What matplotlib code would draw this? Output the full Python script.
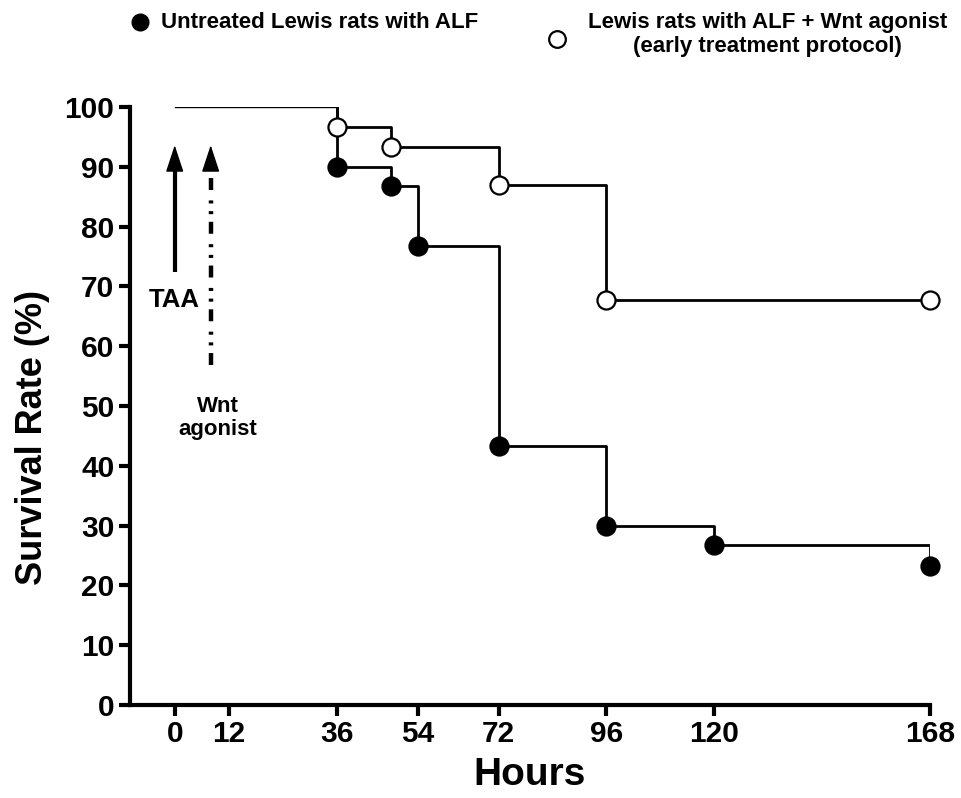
import matplotlib
matplotlib.use("Agg")
from matplotlib import pyplot as plt
from matplotlib.lines import Line2D
from matplotlib import font_manager

# survival data (Kaplan-Meier style)
untreated_hours = [0, 36, 48, 54, 72, 96, 120, 168]
untreated_surv = [100, 90, 86.7, 76.7, 43.3, 30, 26.7, 23.3]
wnt_hours = [0, 36, 48, 72, 96, 168]
wnt_surv = [100, 96.7, 93.3, 87, 67.7, 67.7]
xticks = [0, 12, 36, 54, 72, 96, 120, 168]
yticks = list(range(0, 101, 10))
taa_hour = 0
wnt_hour = 8

names = {f.name for f in font_manager.fontManager.ttflist}
narrow = "Liberation Sans Narrow" if "Liberation Sans Narrow" in names else "Liberation Sans"
plt.rcParams["font.family"] = ["Liberation Sans", "DejaVu Sans"]
plt.rcParams["lines.scale_dashes"] = False

fig = plt.figure(figsize=(9.61, 7.98), dpi=100)
ax = fig.add_axes([0.135, 0.1165, 0.833, 0.7495])

# thin shared line before first death
ax.plot([untreated_hours[0], untreated_hours[1]], [untreated_surv[0], untreated_surv[0]],
        color="black", lw=1.0, zorder=2)

def km(hours, surv, face):
    xs = [hours[1]] + hours[1:]
    ys = [surv[0]] + surv[1:]
    ax.step(xs, ys, where="post", color="black", lw=2.0, zorder=2)
    ax.plot(hours[1:], surv[1:], "o", ms=13, mfc=face, mec="black", mew=1.6,
            zorder=3, clip_on=False)

km(untreated_hours, untreated_surv, "black")
km(wnt_hours, wnt_surv, "white")

# arrows for treatments
head = dict(arrowstyle="-|>,head_length=0.85,head_width=0.28", mutation_scale=20,
            color="black", lw=1, shrinkA=0, shrinkB=0)
ax.plot([taa_hour, taa_hour], [72.4, 91], color="black", lw=3, solid_capstyle="butt")
ax.annotate("", xy=(taa_hour, 93.6), xytext=(taa_hour, 89.5), arrowprops=head)
ax.plot([wnt_hour, wnt_hour], [56.9, 90], color="black", lw=3.2,
        dashes=(8.6, 5.5, 2.2, 5.5, 2.2, 7.5), dash_capstyle="butt")
ax.annotate("", xy=(wnt_hour, 93.6), xytext=(wnt_hour, 89.5), arrowprops=head)
ax.text(taa_hour, 67.7, "TAA", ha="center", va="center", fontsize=18.5, fontweight="bold")
ax.text(wnt_hour + 1.6, 48, "Wnt\nagonist", ha="center", va="center", fontsize=16,
        fontweight="bold", linespacing=1.1)

ax.set_xlim(-10, 168)
ax.set_ylim(0, 100)
ax.set_xticks(xticks)
ax.set_yticks(yticks)
for lab in ax.get_xticklabels() + ax.get_yticklabels():
    lab.set_fontfamily(narrow)
    lab.set_fontweight("bold")
    lab.set_fontsize(21.5)
ax.tick_params(width=3, length=8, direction="out", pad=3)
ax.spines["top"].set_visible(False)
ax.spines["right"].set_visible(False)
ax.spines["left"].set_linewidth(3)
ax.spines["bottom"].set_linewidth(3)

ax.set_xlabel("Hours", fontsize=28, fontweight="bold", fontfamily=narrow, labelpad=6)
ax.set_ylabel("Survival Rate (%)", fontsize=26, fontweight="bold")
ax.yaxis.set_label_coords(-0.1, 0.448)

# legend at top
fig.add_artist(Line2D([0.146], [0.972], marker="o", ms=12, mfc="black", mec="black",
                      transform=fig.transFigure))
fig.text(0.168, 0.972, "Untreated Lewis rats with ALF", fontsize=16, fontweight="bold",
         fontfamily=narrow, va="center")
fig.add_artist(Line2D([0.58], [0.951], marker="o", ms=12, mfc="white", mec="black", mew=1.6,
                      transform=fig.transFigure))
fig.text(0.799, 0.957, "Lewis rats with ALF + Wnt agonist\n(early treatment protocol)",
         fontsize=16, fontweight="bold", fontfamily=narrow, ha="center", va="center",
         multialignment="center", linespacing=1.2)

fig.savefig("out.png", dpi=100)
